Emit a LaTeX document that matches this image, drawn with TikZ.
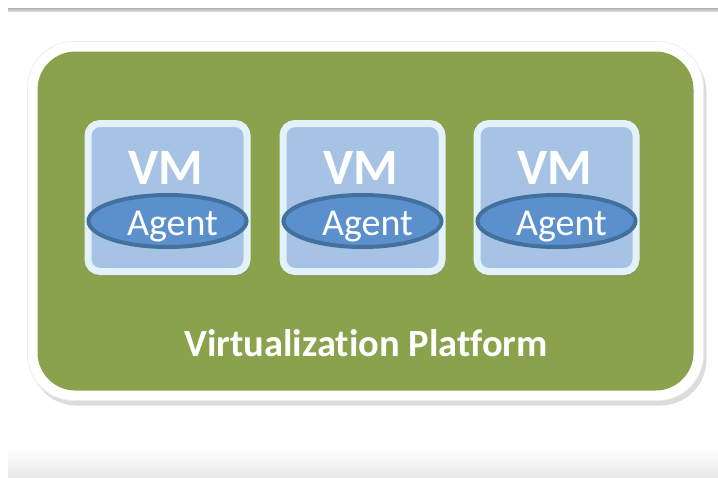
\documentclass[tikz,border=0pt]{standalone}
\usepackage{fontspec}
\setmainfont[Ligatures=NoCommon]{Carlito}
\usetikzlibrary{shadows,shapes.geometric}
\definecolor{platgreen}{HTML}{8AA24B}
\definecolor{vmfill}{HTML}{A6C3E5}
\definecolor{vmrim}{HTML}{E2F1FA}
\definecolor{agentfill}{HTML}{5C90CC}
\definecolor{agentline}{HTML}{41719C}
\tikzset{
  vmbox/.style={draw=vmrim, line width=7pt, fill=vmfill, rounded corners=12pt,
    minimum width=159pt, minimum height=148pt, inner sep=0pt,
    drop shadow={shadow xshift=2pt, shadow yshift=-5pt, opacity=0.2}},
  agent/.style={ellipse, draw=agentline, line width=4pt, fill=agentfill,
    minimum width=158pt, minimum height=52pt, inner sep=0pt},
  vmtext/.style={text=white, font=\fontsize{51}{51}\selectfont\bfseries},
  agenttext/.style={text=white, font=\fontsize{38}{38}\selectfont},
  plattext/.style={text=white, font=\fontsize{38.5}{38.5}\selectfont\bfseries},
  platrim/.style={fill=white, draw=black!7, line width=0.8pt, rounded corners=46pt,
    minimum width=676pt, minimum height=359pt, inner sep=0pt,
    drop shadow={shadow xshift=3pt, shadow yshift=-5pt, opacity=0.28}},
  platbox/.style={fill=platgreen, rounded corners=38pt,
    minimum width=656pt, minimum height=339pt, inner sep=0pt}
}
\begin{document}
\begin{tikzpicture}[x=1pt,y=-1pt]
\useasboundingbox (0,0) rectangle (718,477);
% top rule
\shade[top color=gray!60, bottom color=gray!30] (8,8) rectangle (718,11);
% bottom band
\shade[top color=white, bottom color=black!9] (8,448) rectangle (718,477);
% platform
\node[platrim] (rim) at (365.5,221) {};
\node[platbox] (plat) at (365.5,221) {};
\node[plattext] (ptext) at (366,343) {Virtualization Platform};
% VMs
\foreach \i/\cx in {1/167.5, 2/362.5, 3/556.5}{
  \node[vmbox] (vm\i) at (\cx,197.5) {};
  \node[vmtext] (vmt\i) at (\cx-2,168) {VM};
  \node[agent] (ag\i) at (\cx,221) {};
  \node[agenttext] (agt\i) at (\cx+5,227) {Agent};
}
\end{tikzpicture}
\end{document}
